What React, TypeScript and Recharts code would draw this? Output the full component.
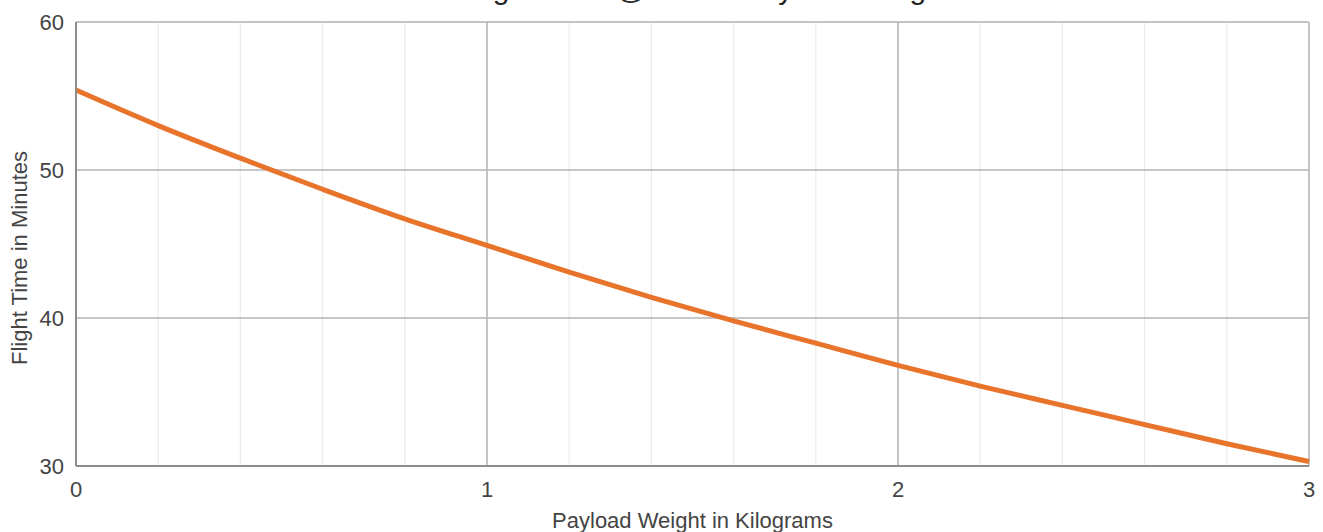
import React from 'react';
import { LineChart, Line, XAxis, YAxis, CartesianGrid } from 'recharts';

// payload weight (kg) and flight time (min)
const payloadKg = [0, 0.2, 0.4, 0.6, 0.8, 1.0, 1.2, 1.4, 1.6, 1.8, 2.0, 2.2, 2.4, 2.6, 2.8, 3.0];
const flightMin = [55.4, 53.0, 50.8, 48.7, 46.7, 44.9, 43.1, 41.4, 39.8, 38.3, 36.8, 35.4, 34.1, 32.8, 31.5, 30.3];

const xTicks = [0, 1, 2, 3];
const yTicks = [30, 40, 50, 60];
const xMinorTicks = [0, 0.2, 0.4, 0.6, 0.8, 1, 1.2, 1.4, 1.6, 1.8, 2, 2.2, 2.4, 2.6, 2.8, 3];
const yMinorTicks = [30, 35, 40, 45, 50, 55, 60];

const data = payloadKg.map((x, i) => ({ x, minutes: flightMin[i] }));

const FONT = 'Arial, "Liberation Sans", sans-serif';
const tickStyle = { fontSize: 22, fill: '#444', fontFamily: FONT };

export default function App() {
  return (
    <div style={{ position: 'absolute', left: 0, top: 0, width: 1323, height: 532, overflow: 'hidden', background: '#fff' }}>
      {/* title sits mostly above the visible area, as in the reference */}
      <div
        style={{
          position: 'absolute',
          left: 461,
          top: -26,
          fontFamily: FONT,
          fontSize: 30,
          lineHeight: '30px',
          color: '#222',
          whiteSpace: 'nowrap',
        }}
      >
        Flight Time @ Given Payload Weight
      </div>
      <LineChart width={1323} height={532} data={data} margin={{ top: 22, right: 14, left: 0, bottom: 0 }}>
        <XAxis xAxisId="minor" type="number" dataKey="x" domain={[0, 3]} ticks={xMinorTicks} hide />
        <YAxis yAxisId="minor" type="number" domain={[30, 60]} ticks={yMinorTicks} hide />
        <CartesianGrid xAxisId="minor" yAxisId="minor" stroke="#ececec" strokeWidth={1.3} />
        <CartesianGrid stroke="#b5b5b5" strokeWidth={1.5} />
        <XAxis
          type="number"
          dataKey="x"
          domain={[0, 3]}
          ticks={xTicks}
          height={66}
          tickLine={false}
          tickSize={0}
          tickMargin={15}
          axisLine={{ stroke: '#8c8c8c', strokeWidth: 2 }}
          tick={tickStyle}
          label={{
            content: (props: any) => {
              const vb = props.viewBox;
              return (
                <text x={vb.x + vb.width / 2} y={vb.y + 62} textAnchor="middle" fontSize={22} fill="#444" fontFamily={FONT}>
                  Payload Weight in Kilograms
                </text>
              );
            },
          }}
        />
        <YAxis
          type="number"
          domain={[30, 60]}
          ticks={yTicks}
          width={76}
          tickLine={false}
          tickSize={0}
          tickMargin={12}
          axisLine={{ stroke: '#8c8c8c', strokeWidth: 2 }}
          tick={tickStyle}
          label={{
            content: (props: any) => {
              const vb = props.viewBox;
              const cx = vb.x + 27;
              const cy = vb.y + vb.height / 2 + 14;
              return (
                <text x={cx} y={cy} transform={`rotate(-90 ${cx} ${cy})`} textAnchor="middle" fontSize={22} fill="#444" fontFamily={FONT}>
                  Flight Time in Minutes
                </text>
              );
            },
          }}
        />
        <Line
          type="monotone"
          dataKey="minutes"
          stroke="#e8732a"
          strokeWidth={5}
          dot={false}
          activeDot={false}
          isAnimationActive={false}
        />
      </LineChart>
    </div>
  );
}
